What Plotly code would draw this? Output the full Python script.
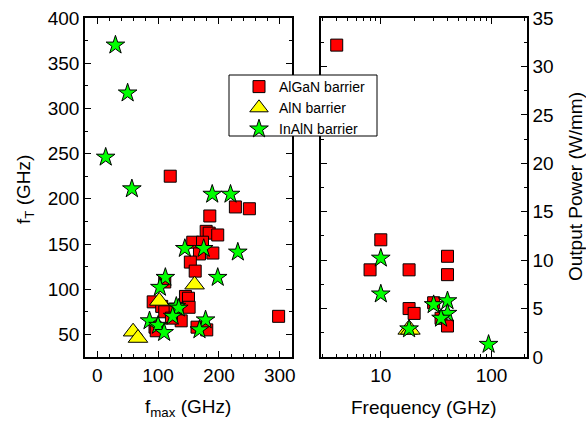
import plotly.graph_objects as go

# f_max / f_T of GaN HEMTs by barrier type (GHz)
algan_fmax = [120, 227, 250, 185, 179, 184, 198, 157, 173, 190, 168, 153, 161, 111,
              145, 150, 151, 92, 106, 111, 128, 138, 122, 95, 97, 164, 180, 298]
algan_ft = [225, 191, 189, 181, 164, 162, 160, 152, 152, 140, 139, 130, 120, 108,
            92, 90, 80, 86, 81, 75, 78, 65, 68, 58, 54, 58, 55, 70]
aln_fmax = [160, 102, 59, 67]
aln_ft = [105, 87, 53, 46]
inaln_fmax = [30, 50, 14, 57, 189, 219, 144, 175, 231, 198, 112, 103, 130, 134,
              124, 86, 100, 110, 178, 168]
inaln_ft = [370, 317, 246, 211, 205, 205, 145, 145, 141, 113, 113, 102, 81, 79,
            70, 65, 60, 52, 66, 55]

# Output power density vs operating frequency
algan_freq = [4, 10, 8, 18, 40, 40, 18, 20, 30, 35, 40]
algan_pout = [32.2, 12.1, 9.0, 9.0, 10.4, 8.5, 5.0, 4.5, 5.6, 4.0, 3.2]
aln_freq = [17.5, 18.5]
aln_pout = [2.8, 2.8]
inaln_freq = [10, 10, 18, 30, 40, 40, 35, 94]
inaln_pout = [10.2, 6.5, 2.9, 5.4, 5.8, 4.5, 4.0, 1.3]

names = ["AlGaN barrier", "AlN barrier", "InAlN barrier"]
styles = [
    dict(symbol="square", size=12, color="#ff0000"),
    dict(symbol="triangle-up", size=17, color="#ffff00"),
    dict(symbol="star", size=14, color="#00ff00"),
]
left = [(algan_fmax, algan_ft), (aln_fmax, aln_ft), (inaln_fmax, inaln_ft)]
right = [(algan_freq, algan_pout), (aln_freq, aln_pout), (inaln_freq, inaln_pout)]

fig = go.Figure()
for name, st, (lx, ly), (rx, ry) in zip(names, styles, left, right):
    marker = dict(symbol=st["symbol"], size=st["size"], color=st["color"],
                  line=dict(color="black", width=1))
    fig.add_trace(go.Scatter(x=lx, y=ly, mode="markers", name=name, marker=marker,
                             legendgroup=name, xaxis="x", yaxis="y"))
    fig.add_trace(go.Scatter(x=rx, y=ry, mode="markers", name=name, marker=marker,
                             legendgroup=name, showlegend=False, xaxis="x2", yaxis="y2"))

W, H = 586, 427
ydom = [1 - 357 / H, 1 - 18 / H]
FAM = "Liberation Sans, Arial, sans-serif"
font = dict(family=FAM, size=19, color="black")
common = dict(showline=True, linecolor="black", linewidth=1.5, mirror="allticks",
              ticks="inside", ticklen=6, tickwidth=1, tickcolor="black",
              showgrid=False, zeroline=False, tickfont=font, automargin=False)

fig.update_layout(
    width=W, height=H,
    margin=dict(l=0, r=0, t=0, b=0),
    paper_bgcolor="white", plot_bgcolor="white",
    font=font,
    xaxis=dict(domain=[85 / W, 292 / W], range=[-20, 320], dtick=100, tick0=0,
               minor=dict(dtick=20, ticks="inside", ticklen=3, tickcolor="black"),
               anchor="y", **common),
    yaxis=dict(domain=ydom, range=[25, 400], dtick=50, tick0=0,
               minor=dict(dtick=25, ticks="inside", ticklen=3, tickcolor="black"),
               anchor="x", **common),
    xaxis2=dict(domain=[321 / W, 527 / W], type="log", range=[0.46, 2.32],
                tickvals=[10, 100], ticktext=["10", "100"],
                minor=dict(tickvals=[3, 4, 5, 6, 7, 8, 9, 20, 30, 40, 50, 60, 70, 80, 90, 200],
                           ticks="inside", ticklen=3, tickcolor="black"),
                anchor="y2", **common),
    yaxis2=dict(domain=ydom, range=[0, 35], dtick=5, side="right",
                minor=dict(dtick=2.5, ticks="inside", ticklen=3, tickcolor="black"),
                anchor="x2", **common),
    legend=dict(x=239 / W, y=1 - 71 / H, xanchor="left", yanchor="top",
                bgcolor="rgba(0,0,0,0)", borderwidth=0,
                font=dict(family=FAM, size=14, color="black"),
                tracegroupgap=0),
    showlegend=True,
)

# legend frame
fig.add_shape(type="rect", xref="paper", yref="paper",
              x0=229 / W, x1=377 / W, y0=1 - 136 / H, y1=1 - 75 / H,
              line=dict(color="black", width=1), fillcolor="white", layer="above")

fig.add_annotation(text="f<sub>T</sub> (GHz)", x=25 / W, y=1 - 190 / H, xref="paper", yref="paper",
                   textangle=-90, showarrow=False, font=font, xanchor="center", yanchor="middle")
fig.add_annotation(text="f<sub>max</sub> (GHz)", x=188 / W, y=1 - 408 / H, xref="paper", yref="paper",
                   showarrow=False, font=font, xanchor="center", yanchor="middle")
fig.add_annotation(text="Frequency (GHz)", x=424 / W, y=1 - 407 / H, xref="paper", yref="paper",
                   showarrow=False, font=font, xanchor="center", yanchor="middle")
fig.add_annotation(text="Output Power (W/mm)", x=575 / W, y=1 - 187 / H, xref="paper", yref="paper",
                   textangle=-90, showarrow=False, font=font, xanchor="center", yanchor="middle")

fig.write_html("out.html")
